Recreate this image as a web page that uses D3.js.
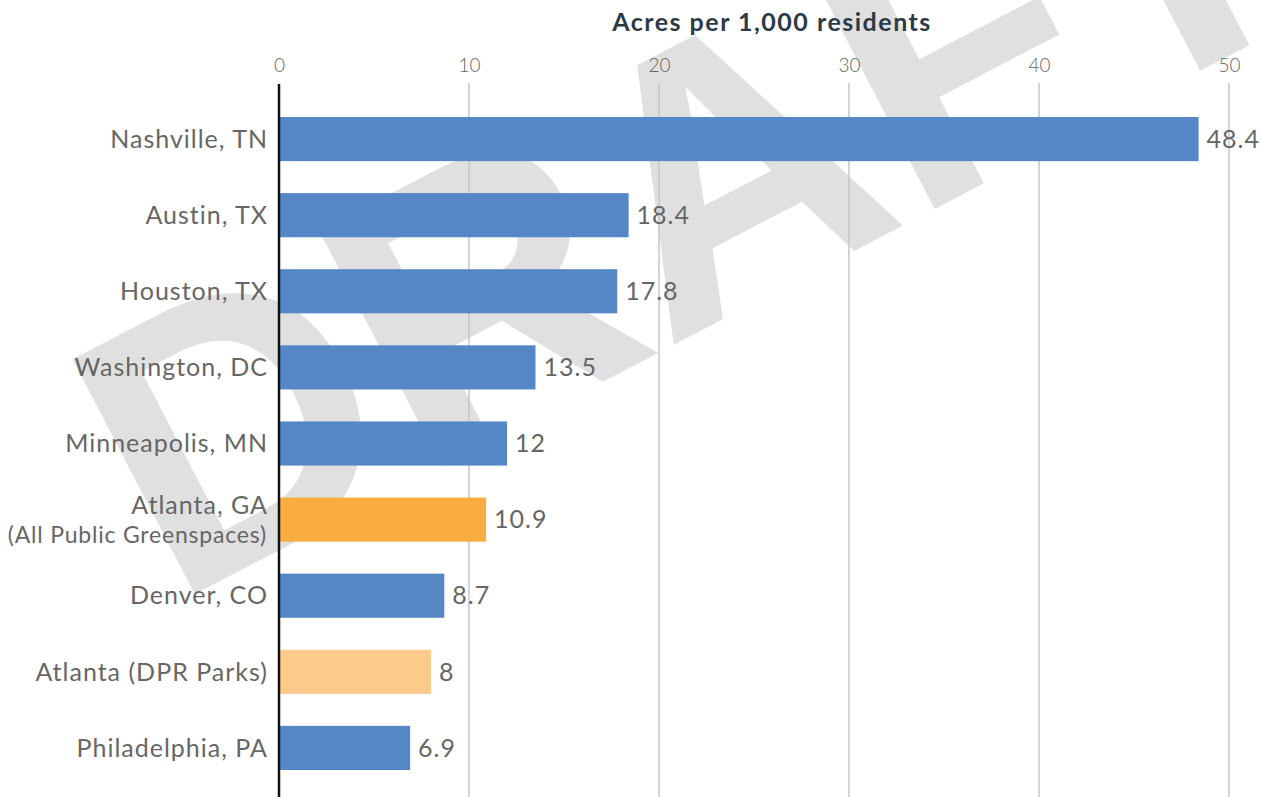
<!DOCTYPE html>
<html>
<head>
<meta charset="utf-8">
<style>
body { margin: 0; background: #fff; }
svg { display: block; font-family: Lato, "Open Sans", sans-serif; }
</style>
</head>
<body>
<svg width="1262" height="797"></svg>
<script src="https://d3js.org/d3.v7.min.js"></script>
<script>

var cities = ["Nashville, TN", "Austin, TX", "Houston, TX", "Washington, DC", "Minneapolis, MN",
              "Atlanta, GA", "Denver, CO", "Atlanta (DPR Parks)", "Philadelphia, PA"];
var acres = [48.4, 18.4, 17.8, 13.5, 12, 10.9, 8.7, 8, 6.9];
var groups = ["city", "city", "city", "city", "city", "atlantaAll", "city", "atlantaDPR", "city"];
var subLabels = ["", "", "", "", "", "(All Public Greenspaces)", "", "", ""];
var ticks = [0, 10, 20, 30, 40, 50];

var rows = cities.map(function(c, i) {
  return {city: c, value: acres[i], group: groups[i], sub: subLabels[i]};
});

var svg = d3.select("svg");

var x = d3.scaleLinear().domain([0, 50]).range([279, 1229]);
var y = d3.scaleBand().domain(cities).range([101, 786]).paddingInner(0.42).paddingOuter(0.21);
var color = d3.scaleOrdinal()
    .domain(["city", "atlantaAll", "atlantaDPR"])
    .range(["#5587c7", "#f9ad40", "#fccb8b"]);

// watermark
svg.append("text")
    .attr("transform", "translate(172,606) rotate(-27.5)")
    .attr("font-family", "'Liberation Sans', Arial, sans-serif")
    .attr("font-weight", "bold")
    .attr("font-size", 385)
    .attr("fill", "#e0e0e0")
    .text("DRAFT");

// gridlines
svg.append("g").selectAll("line")
    .data(ticks.slice(1))
  .enter().append("line")
    .attr("x1", function(d) { return x(d); })
    .attr("x2", function(d) { return x(d); })
    .attr("y1", 83).attr("y2", 797)
    .attr("stroke", "#c6c6c6")
    .attr("stroke-width", 1.5);

// top axis
var axis = svg.append("g")
    .attr("transform", "translate(0,80)")
    .call(d3.axisTop(x).tickValues(ticks).tickSize(0).tickPadding(8));
axis.select(".domain").remove();
axis.selectAll("text")
    .attr("font-family", "Lato, sans-serif")
    .attr("font-size", 19)
    .attr("font-weight", 300)
    .attr("fill", "#666");

svg.append("text")
    .attr("x", 772).attr("y", 31)
    .attr("text-anchor", "middle")
    .attr("font-size", 25)
    .attr("font-weight", "bold")
    .attr("letter-spacing", 1.5)
    .attr("fill", "#2c3a47")
    .text("Acres per 1,000 residents");

// bars
svg.append("g").selectAll("rect")
    .data(rows)
  .enter().append("rect")
    .attr("x", x(0))
    .attr("y", function(d) { return y(d.city); })
    .attr("width", function(d) { return x(d.value) - x(0); })
    .attr("height", y.bandwidth())
    .attr("fill", function(d) { return color(d.group); });

// value labels
svg.append("g").selectAll("text")
    .data(rows)
  .enter().append("text")
    .attr("x", function(d) { return x(d.value) + 8; })
    .attr("y", function(d) { return y(d.city) + y.bandwidth() / 2; })
    .attr("dy", "0.35em")
    .attr("font-size", 25)
    .attr("letter-spacing", 1)
    .attr("fill", "#666")
    .text(function(d) { return d.value; });

// category labels
svg.append("g").selectAll("text")
    .data(rows)
  .enter().append("text")
    .attr("text-anchor", "end")
    .attr("x", 268)
    .attr("y", function(d) { return y(d.city) + y.bandwidth() / 2 - (d.sub ? 14 : 0); })
    .attr("dy", "0.35em")
    .attr("font-size", 25)
    .attr("letter-spacing", 1)
    .attr("fill", "#666")
    .text(function(d) { return d.city; });

svg.append("g").selectAll("text")
    .data(rows.filter(function(d) { return d.sub; }))
  .enter().append("text")
    .attr("text-anchor", "end")
    .attr("x", 267)
    .attr("y", function(d) { return y(d.city) + y.bandwidth() / 2 + 15; })
    .attr("dy", "0.35em")
    .attr("font-size", 23)
    .attr("letter-spacing", 0.8)
    .attr("fill", "#666")
    .text(function(d) { return d.sub; });

// zero line
svg.append("line")
    .attr("x1", x(0)).attr("x2", x(0))
    .attr("y1", 84).attr("y2", 797)
    .attr("stroke", "#111")
    .attr("stroke-width", 2.5);

</script>
</body>
</html>
